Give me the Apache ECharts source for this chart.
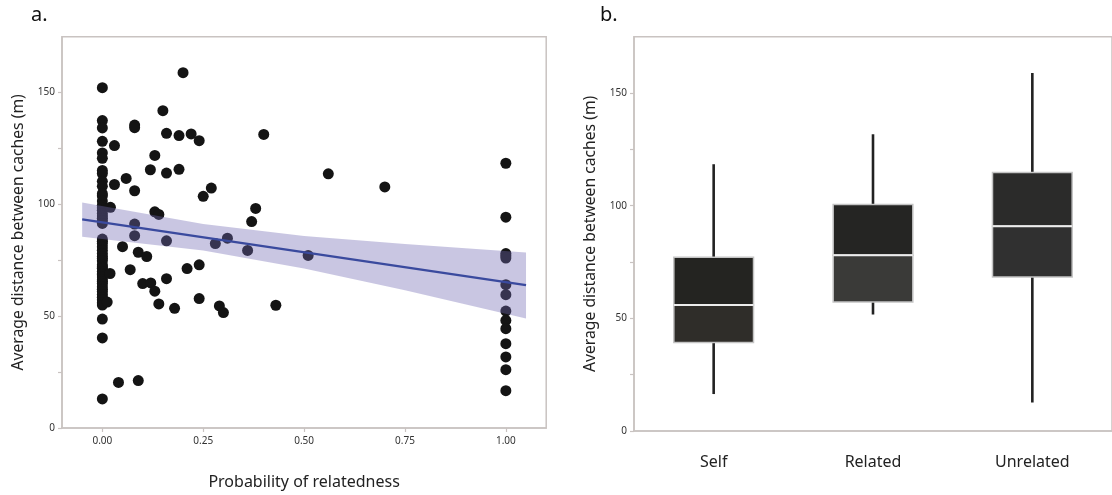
<!DOCTYPE html>
<html>
<head>
<meta charset="utf-8">
<script src="https://cdn.jsdelivr.net/npm/echarts@6/dist/echarts.min.js"></script>
<style>
html,body{margin:0;padding:0;background:#fff;}
#chart{width:1112px;height:495px;}
</style>
</head>
<body>
<div id="chart"></div>
<script>
// ---------- Panel a: scatter data ----------
// points at relatedness 0 (y values)
const column0Y = [152.2, 137.5, 134.2, 128.2, 123.0, 120.6, 115.2, 113.8, 110.3, 108.1, 104.8, 103.8,
  101.5, 99.6, 98.5, 97.4, 95.9, 94.8, 93.8, 92.8, 91.5, 84.5, 83.5, 82.5, 81.0, 79.5, 78.0, 76.7, 75.8,
  74.8, 73.0, 72.0, 71.5, 70.0, 69.0, 68.5, 67.5, 66.3, 65.5, 64.6, 63.2, 62.0, 61.0, 59.7, 58.5, 57.3,
  56.0, 55.0, 48.7, 40.3, 13.0];
// points at relatedness 1 (y values)
const column1Y = [118.4, 94.3, 78.0, 77.0, 76.0, 64.1, 59.6, 52.3, 48.1, 44.4, 37.7, 31.8, 26.1, 16.7];
// points with intermediate relatedness [x, y]
const midPoints = [
  [0.02, 98.7], [0.019, 69.1], [0.012, 56.3], [0.03, 126.3], [0.03, 108.9], [0.04, 20.4], [0.05, 81.1],
  [0.059, 111.6], [0.069, 70.8], [0.08, 135.5], [0.08, 134.3], [0.08, 106.1], [0.08, 91.2], [0.08, 86.0],
  [0.089, 78.6], [0.089, 21.2], [0.1, 64.6], [0.11, 76.7], [0.119, 115.5], [0.12, 64.9], [0.13, 121.9],
  [0.13, 96.7], [0.14, 95.5], [0.13, 61.2], [0.14, 55.5], [0.15, 141.9], [0.159, 131.8], [0.159, 114.0],
  [0.159, 83.7], [0.159, 66.8], [0.179, 53.5], [0.19, 130.8], [0.19, 115.7], [0.2, 158.9], [0.21, 71.3],
  [0.22, 131.5], [0.24, 128.5], [0.24, 73.0], [0.24, 57.9], [0.25, 103.6], [0.27, 107.3], [0.28, 82.5],
  [0.29, 54.6], [0.3, 51.6], [0.31, 84.9], [0.36, 79.4], [0.37, 92.3], [0.38, 98.2], [0.4, 131.3],
  [0.43, 54.9], [0.51, 77.2], [0.56, 113.7], [0.7, 107.8]
];
// regression line and confidence band
const fitX = [-0.05, 1.05];
const fitY = [93.3, 63.9];
const bandX = [-0.05, 0.25, 0.5, 0.75, 1.05];
const bandLow = [85.5, 79.4, 71.3, 61.6, 49.0];
const bandHigh = [100.8, 91.2, 85.9, 82.3, 78.5];
const xTicks = [0, 0.25, 0.5, 0.75, 1];
const yTicks = [0, 25, 50, 75, 100, 125, 150];
const yLabels = [0, 50, 100, 150];

// ---------- Panel b: box plot data ----------
const categories = ['Self', 'Related', 'Unrelated'];
const boxLow = [16.4, 51.7, 12.7];
const boxQ1 = [39.3, 57.2, 68.4];
const boxMedian = [55.9, 78.0, 90.9];
const boxQ3 = [77.1, 100.5, 114.7];
const boxHigh = [118.4, 131.7, 158.9];
const upperFill = ['#242421', '#252523', '#2b2b2a'];
const lowerFill = ['#2f2d29', '#3a3a38', '#303030'];

const scatterData = []
  .concat(column0Y.map(y => [0, y]))
  .concat(midPoints)
  .concat(column1Y.map(y => [1, y]));

const FONT = 'Noto Sans';
const gridLine = '#c9c3c1';

const chart = echarts.init(document.getElementById('chart'), null, {renderer: 'canvas'});

const yAxisCommon = {
  type: 'value', min: 0, max: 175,
  name: 'Average distance between caches (m)',
  nameLocation: 'middle', nameRotate: 90, nameGap: 35,
  nameTextStyle: {fontFamily: FONT, fontSize: 15.7, color: '#222'},
  axisLine: {show: true, onZero: false, lineStyle: {color: gridLine, width: 1.5}},
  axisTick: {show: true, length: 4, customValues: yTicks, lineStyle: {color: gridLine, width: 1.2}},
  axisLabel: {customValues: yLabels, fontFamily: FONT, fontSize: 10, color: '#333', margin: 7},
  splitLine: {show: false}
};

const option = {
  animation: false,
  backgroundColor: '#fff',
  title: [
    {text: 'a.', left: 26, top: 0, textStyle: {fontFamily: FONT, fontSize: 20, fontWeight: 'normal', color: '#111'}},
    {text: 'b.', left: 595, top: 0, textStyle: {fontFamily: FONT, fontSize: 20, fontWeight: 'normal', color: '#111'}}
  ],
  grid: [
    {left: 62, top: 36.7, width: 484.2, height: 394.3, show: true, borderColor: gridLine, borderWidth: 1.5, backgroundColor: 'transparent'},
    {left: 634, top: 36.7, width: 483, height: 394.3, show: true, borderColor: gridLine, borderWidth: 1.5, backgroundColor: 'transparent'}
  ],
  xAxis: [
    {
      gridIndex: 0, type: 'value', min: -0.1, max: 1.1,
      name: 'Probability of relatedness', nameLocation: 'middle', nameGap: 46,
      nameTextStyle: {fontFamily: FONT, fontSize: 16, color: '#222'},
      axisLine: {show: true, onZero: false, lineStyle: {color: gridLine, width: 1.5}},
      axisTick: {show: true, length: 4, customValues: xTicks, lineStyle: {color: gridLine, width: 1.2}},
      axisLabel: {customValues: xTicks, formatter: v => v.toFixed(2), fontFamily: FONT, fontSize: 10, color: '#333', margin: 8},
      splitLine: {show: false}
    },
    {
      gridIndex: 1, type: 'category', data: categories, boundaryGap: true,
      axisLine: {show: true, onZero: false, lineStyle: {color: gridLine, width: 1.5}},
      axisTick: {show: false},
      axisLabel: {fontFamily: FONT, fontSize: 16, color: '#222', margin: 23},
      splitLine: {show: false}
    }
  ],
  yAxis: [
    Object.assign({gridIndex: 0}, yAxisCommon),
    Object.assign({gridIndex: 1}, yAxisCommon)
  ],
  series: [
    {
      type: 'scatter', xAxisIndex: 0, yAxisIndex: 0, z: 2,
      symbol: 'circle', symbolSize: 11,
      itemStyle: {color: '#141414', opacity: 1},
      data: scatterData
    },
    {
      type: 'custom', xAxisIndex: 0, yAxisIndex: 0, z: 3,
      data: bandX.map((x, i) => [x, bandLow[i], bandHigh[i]]),
      encode: {x: 0, y: [1, 2]},
      silent: true,
      renderItem: function (params, api) {
        if (params.dataIndex !== 0) return null;
        const pts = [];
        for (let i = 0; i < bandX.length; i++) pts.push(api.coord([bandX[i], bandHigh[i]]));
        for (let i = bandX.length - 1; i >= 0; i--) pts.push(api.coord([bandX[i], bandLow[i]]));
        return {type: 'polygon', shape: {points: pts}, style: {fill: 'rgba(112,104,180,0.38)'}};
      }
    },
    {
      type: 'line', xAxisIndex: 0, yAxisIndex: 0, z: 4,
      data: fitX.map((x, i) => [x, fitY[i]]),
      symbol: 'none',
      lineStyle: {color: '#3a4a9e', width: 2.5}
    },
    {
      type: 'custom', xAxisIndex: 1, yAxisIndex: 1, z: 3,
      data: categories.map((c, i) => [i, boxLow[i], boxQ1[i], boxMedian[i], boxQ3[i], boxHigh[i]]),
      encode: {x: 0, y: [1, 2, 3, 4, 5]},
      renderItem: function (params, api) {
        const i = api.value(0);
        const pLow = api.coord([i, api.value(1)]);
        const pQ1 = api.coord([i, api.value(2)]);
        const pMed = api.coord([i, api.value(3)]);
        const pQ3 = api.coord([i, api.value(4)]);
        const pHigh = api.coord([i, api.value(5)]);
        const w = api.size([1, 0])[0] * 0.5;
        const cx = pMed[0];
        return {
          type: 'group',
          children: [
            {type: 'line', shape: {x1: cx, y1: pHigh[1], x2: cx, y2: pLow[1]}, style: {stroke: '#222', lineWidth: 2.6}},
            {type: 'rect', shape: {x: cx - w / 2, y: pQ3[1], width: w, height: pMed[1] - pQ3[1]},
              style: {fill: upperFill[i], stroke: '#c4c4c4', lineWidth: 1.5}},
            {type: 'rect', shape: {x: cx - w / 2, y: pMed[1], width: w, height: pQ1[1] - pMed[1]},
              style: {fill: lowerFill[i], stroke: '#c4c4c4', lineWidth: 1.5}},
            {type: 'line', shape: {x1: cx - w / 2, y1: pMed[1], x2: cx + w / 2, y2: pMed[1]},
              style: {stroke: '#ececec', lineWidth: 2}}
          ]
        };
      }
    }
  ]
};
chart.setOption(option);
</script>
</body>
</html>
